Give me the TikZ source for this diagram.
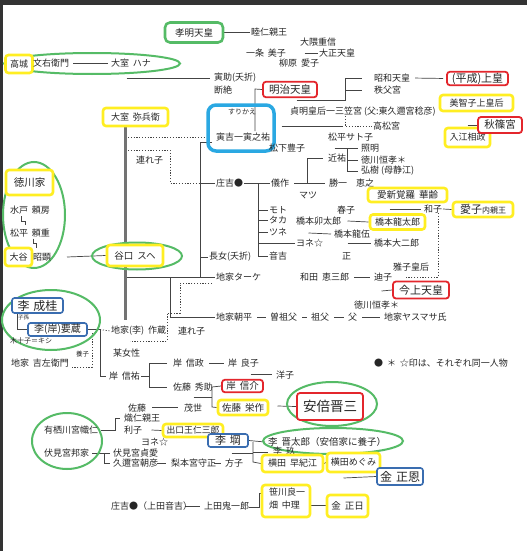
\documentclass[tikz,border=0pt]{standalone}
\usepackage{fontspec}
\setmainfont{Noto Sans CJK JP}
\usetikzlibrary{shapes.geometric}
\definecolor{hlY}{HTML}{FFEE22}
\definecolor{hlG}{HTML}{55BB66}
\definecolor{hlR}{HTML}{E3262C}
\definecolor{hlB}{HTML}{3A6DB0}
\definecolor{hlC}{HTML}{2AA8E2}
\definecolor{ink}{HTML}{444444}
\newcommand\fsz[1]{\fontsize{#1}{#1}\selectfont}
\newcommand\jsp{\hspace{4pt}}
\pgfdeclarelayer{bg}
\pgfsetlayers{bg,main}
\begin{document}
\begin{tikzpicture}[x=1pt,y=-1pt,
  t/.style={inner sep=0.8pt, font=\fsz{9}, text=black!85, anchor=west},
  ln/.style={draw=ink, line width=0.7pt},
  gp/.style={ln, shorten <=4pt, shorten >=3pt},
  dbl/.style={draw=ink, line width=0.55pt, double=white, double distance=1.3pt},
  dot/.style={draw=ink, line width=0.7pt, dash pattern=on 1.2pt off 1.6pt},
  ybox/.style={draw=hlY, line width=2.6pt, rounded corners=3pt, fill=white, inner sep=0pt, text=black!85},
  rbox/.style={draw=hlR, line width=1.8pt, rounded corners=3pt, fill=white, inner sep=0pt, text=black!85},
  bbox/.style={draw=hlB, line width=1.6pt, rounded corners=2.5pt, fill=white, inner sep=0pt, text=black!85},
  gbox/.style={draw=hlG, line width=2.6pt, rounded corners=5pt, fill=white, inner sep=0pt, text=black!85},
  gell/.style={draw=hlG, line width=2pt}]
\useasboundingbox (0,0) rectangle (527,551);

% ---------- green ellipses ----------
\draw[gell] (92,63.5) ellipse [x radius=88, y radius=10.5];
\draw[gell] (34,215) ellipse [x radius=31, y radius=53];
\draw[gell] (137,256) ellipse [x radius=45, y radius=13.5];
\draw[gell] (51,320) ellipse [x radius=49, y radius=30];
\draw[gell] (67,441) ellipse [x radius=35, y radius=28];
\draw[gell] (332,404) ellipse [x radius=45, y radius=22];
\draw[gell] (333,441) ellipse [x radius=70, y radius=13];

% ---------- top ----------
\node[gbox, minimum width=58, minimum height=20, font=\fsz{9.5}] (koumei) at (194,32.5) {孝明天皇};
\node[t] (mutsu) at (250,32.5) {睦仁親王};
\node[t] (ichijo) at (245,53) {一条\jsp 美子};
\node[t] (okuma) at (299,42) {大隈重信};
\node[t] (taisho) at (318,53) {大正天皇};
\node[t] (yanagi) at (278,63) {柳原\jsp 愛子};
\node[rbox, minimum width=54, minimum height=15.5, font=\fsz{10.5}] (meiji) at (290,89.5) {明治天皇};
\node[t] (showa) at (373,78) {昭和天皇};
\node[t] (chichibu) at (373,90) {秩父宮};
\node[t] (teimei) at (289,112) {貞明皇后一三笠宮 (父:東久邇宮稔彦)};
\node[t] (takamatsu) at (372,126) {高松宮};
\node[rbox, minimum width=61, minimum height=13.5, font=\fsz{11}] (heisei) at (477.5,78.5) {(平成)上皇};
\node[ybox, minimum width=73, minimum height=16, font=\fsz{9}] (michiko) at (476.5,103) {美智子上皇后};
\node[ybox, minimum width=45, minimum height=19, font=\fsz{9}] (irie) at (467.5,137.5) {入江相政};
\node[rbox, minimum width=44, minimum height=16, font=\fsz{10.5}] (akishino) at (500,125) {秋篠宮};

% ---------- Omuro ----------
\node[ybox, minimum width=27, minimum height=18, font=\fsz{9}] (takagi) at (19,64) {高城};
\node[t] (bunemon) at (32,63.5) {文右衛門};
\node[t] (hana) at (110,63.5) {大室\jsp ハナ};
\node[t] (torasuke) at (213,78) {寅助(夭折)};
\node[t] (danzetsu) at (213,90) {断絶};
\node[ybox, minimum width=65, minimum height=18, font=\fsz{9}] (yahei) at (135.5,117) {大室\jsp 弥兵衛};
\node[draw=hlC, line width=3.5pt, rounded corners=8pt, minimum width=66, minimum height=46, inner sep=0pt] (surikae) at (241,128) {};
\node[t, font=\fsz{7}] (surikaetxt) at (227,112) {すりかえ};
\node[t] (torakichi) at (215,137) {寅吉一寅之祐};
\node[t] (matsushita) at (268,148) {松下豊子};
\node[t] (tsureko1) at (135,160) {連れ子};
\node[t] (shokichi) at (215,183) {庄吉●};
\node[t] (gisaku) at (270,183) {儀作};
\node[t] (chikasuke) at (327,158) {近祐};
\node[t] (katsu) at (328,183) {勝一};
\node[t] (yoshiyuki) at (355,183) {恵之};
\node[t] (sato) at (327,137) {松平サト子};
\node[t] (teruaki) at (360,148) {照明};
\node[t] (tsunenari) at (360,160) {徳川恒孝＊};
\node[t] (hiroki) at (360,171) {弘樹 (母静江)};
\node[ybox, minimum width=79, minimum height=14, font=\fsz{9.5}] (karei) at (407.5,195) {愛新覚羅\jsp 華齢};
\node[t] (kazuko) at (423,209) {和子};
\node[ybox, minimum width=60, minimum height=15, inner sep=0pt] (aiko) at (483,209.5) {\fsz{11}愛子\fsz{8}内親王};
\node[t] (matsu) at (298,195) {マツ};
\node[t] (haruko) at (336,210) {春子};
\node[t] (utaro) at (295,221) {橋本卯太郎};
\node[ybox, minimum width=55, minimum height=15, font=\fsz{9}] (ryutaro) at (397.5,222) {橋本龍太郎};
\node[t] (ryugo) at (333,234) {橋本龍伍};
\node[t] (yone) at (295,243) {ヨネ☆};
\node[t] (daijiro) at (373,243) {橋本大二郎};
\node[t] (tadashi) at (341,256) {正};
\node[t] (moto) at (268,210) {モト};
\node[t] (taka) at (268,220) {タカ};
\node[t] (tsune) at (268,232) {ツネ};
\node[t] (otokichi) at (268,256) {音吉};
\node[t] (choujo) at (208,257) {長女(夭折)};
\node[t] (chiketake) at (215,277) {地家ターケ};
\node[t] (wada) at (299,277) {和田\jsp 恵三郎};
\node[t] (michiko2) at (373,277) {迪子};
\node[t] (masako) at (392,267) {雅子皇后};
\node[rbox, minimum width=56, minimum height=17, font=\fsz{11}] (kinjo) at (421,290) {今上天皇};
\node[t] (tsunenari2) at (353,305) {徳川恒孝＊};
\node[t] (asahira) at (215,317) {地家朝平};
\node[t] (sosofu) at (269,317) {曽祖父};
\node[t] (sofu) at (310,317) {祖父};
\node[t] (chichi) at (347,317) {父};
\node[t] (yasumasa) at (383,317) {地家ヤスマサ氏};
\node[t] (legend) at (373,363) {●\jsp ＊\jsp ☆印は、それぞれ同一人物};

% ---------- Tokugawa ----------
\node[ybox, minimum width=47, minimum height=25, font=\fsz{10.5}] (tokugawa) at (29.5,182.5) {徳川家};
\node[t] (mito) at (9,210) {水戸\jsp 頼房};
\node[t] (matsudaira) at (9,233) {松平\jsp 頼重};
\node[ybox, minimum width=27, minimum height=18, font=\fsz{9}] (otani) at (18.5,257) {大谷};
\node[t] (akiaki) at (32,257) {昭顕};
\node[ybox, minimum width=56, minimum height=21, font=\fsz{9.5}] (taniguchi) at (135,255.5) {谷口\jsp スヘ};

% ---------- Lee ----------
\node[bbox, minimum width=51, minimum height=15, font=\fsz{12}] (seikei) at (37.5,305.5) {李\jsp 成桂};
\node[t, font=\fsz{5.5}] (shison) at (17,317) {子孫};
\node[bbox, minimum width=59, minimum height=13, font=\fsz{10}] (yozo) at (57.5,329.5) {李(岸)要蔵};
\node[t, font=\fsz{7}] (kishi) at (9,341) {木十子＝キシ};
\node[t] (sakuzo) at (110,331) {地家(李)\jsp 作蔵};
\node[t] (tsureko2) at (177,331) {連れ子};
\node[t] (bojosei) at (112,353) {某女性};
\node[t, font=\fsz{6.5}] (yoshi) at (75,354) {養子};
\node[t] (kichizaemon) at (10,363) {地家\jsp 吉左衛門};
\node[t] (nobusuke0) at (108,376) {岸\jsp 信祐};
\node[t] (nobumasa) at (172,363) {岸\jsp 信政};
\node[t] (ryoko) at (227,363) {岸\jsp 良子};
\node[t] (hidesuke) at (172,387) {佐藤\jsp 秀助};
\node[t] (yoko) at (275,375) {洋子};
\node[rbox, minimum width=41, minimum height=12.5, font=\fsz{9.5}] (nobusuke) at (242.5,386) {岸\jsp 信介};
\node[ybox, minimum width=50, minimum height=15, font=\fsz{9.5}] (eisaku) at (243,407.5) {佐藤\jsp 栄作};
\node[t] (sato2) at (127,408) {佐藤};
\node[t] (shigeyo) at (183,408) {茂世};
\node[rbox, minimum width=66, minimum height=27, font=\fsz{13.5}] (abe) at (330,406.5) {安倍晋三};

% ---------- bottom ----------
\node[t] (arisugawa) at (43,430) {有栖川宮幟仁};
\node[t] (fushimi) at (43,453) {伏見宮邦家};
\node[t] (taruhito) at (123,418) {熾仁親王};
\node[t] (riko) at (123,430) {利子};
\node[ybox, minimum width=60, minimum height=13, font=\fsz{8.8}] (deguchi) at (193,430.5) {出口王仁三郎};
\node[t] (yone2) at (140,442) {ヨネ☆};
\node[t] (sadanaru) at (112,453) {伏見宮貞愛};
\node[t] (asahiko) at (112,463) {久邇宮朝彦};
\node[t] (morimasa) at (170,463) {梨本宮守正};
\node[t] (masako2) at (224,463) {方子};
\node[bbox, minimum width=40, minimum height=13, font=\fsz{11}] (rigin) at (228,440.5) {李\jsp 堈};
\node[t, font=\fsz{9.5}] (shintaro) at (267,442) {李\jsp 晋太郎（安倍家に養子）};
\node[t] (rikyu) at (272,451) {李\jsp 玖};
\node[ybox, minimum width=61, minimum height=17, font=\fsz{9}] (sakie) at (292.5,463.5) {横田\jsp 早紀江};
\node[ybox, minimum width=53, minimum height=19, font=\fsz{9}] (megumi) at (353.5,462.5) {横田めぐみ};
\node[bbox, minimum width=46, minimum height=17, font=\fsz{12}] (jongun) at (400,476.5) {金\jsp 正恩};
\node[ybox, minimum width=41, minimum height=22, font=\fsz{9.5}] (jongil) at (347.5,506) {金\jsp 正日};
\node[ybox, minimum width=48, minimum height=32] (sasabox) at (286,501) {};
\node[t] (sasakawa) at (268,492) {笹川良一};
\node[t] (hata) at (268,505) {畑\jsp 中理};
\node[t] (shokichi2) at (110,506) {庄吉●（上田音吉）};
\node[t] (kiichiro) at (203,506) {上田鬼一郎};

% ---------- background and connectors (under boxes) ----------
\begin{pgfonlayer}{bg}
\fill[white] (0,0) rectangle (527,551);
\fill[black!80] (0,0) rectangle (527,5);
\fill[black!80] (0,0) rectangle (3,551);
\draw[ln] (koumei.east) -- (mutsu.west);
\draw[dbl] (270,38)--(270,47.5);
\draw[dbl] (270,58)--(270,82);
\draw[dbl] (288,68)--(288,82);
\draw[dbl] (303,47)--(303,58.5);
\draw[ln] (304.5,53)--(taisho.west);
\draw[dbl] (321,58)--(321,106);
\draw[dbl] (295,97)--(295,103);
\draw[ln] (296.5,100)--(345,100)--(345,78)--(362,78);
\draw[ln] (345,90)--(362,90);
\draw[gp] (showa.east) -- (heisei.west);
\draw[dbl] (466,85)--(466,95);
\draw[dbl] (466,111)--(466,130);
\draw[ln] (467.5,125)--(akishino.west);
\draw[dbl] (280,97)--(280,143);
\draw[ln] (281.5,126)--(343,126);
\draw[dot] (345,116)--(345,126)--(takamatsu.west);
\draw[ln] (255,131)--(255,89)--(meiji.west);
\draw[ln] ([xshift=3pt]bunemon.east) -- ([xshift=-2pt]hana.west);
\draw[dbl] (125,70)--(125,108);
\draw[ln] (126.5,78)--([xshift=-3pt]torasuke.west);
\draw[draw=black!55, line width=3pt] (125,126)--(125,320);
\draw[dot] (128,137)--(surikae.west |- 0,137);
\draw[dot] (128,150)--(170,150)--(170,183)--(200,183);
\draw[ln] (212,142) -- (200,142)--(200,277);
\draw[ln] (200,183)--(shokichi.west);
\draw[ln] (200,257)--(choujo.west);
\draw[ln] (127,277)--(chiketake.west);
\draw[ln] (170,277)--(170,317)--(asahira.west);
\draw[dot] (212,283)--(180,283)--(180,313)--(167,313)--(167,341)--(130,341);
\draw[ln] (shokichi.east)--(gisaku.west);
\draw[ln] (258,183)--(258,256);
\draw[ln] (258,210)--(moto.west);
\draw[ln] (258,220)--(taka.west);
\draw[ln] (258,232)--(tsune.west);
\draw[ln] (258,243)--(yone.west);
\draw[ln] (258,256)--(otokichi.west);
\draw[gp] (gisaku.east)--(katsu.west);
\draw[ln] (307,183)--(307,158)--([xshift=-4pt]chikasuke.west);
\draw[gp] (katsu.east)--(yoshiyuki.west);
\draw[dbl] (333,142)--(333,153.5);
\draw[ln] (334.5,148)--([xshift=-2pt]teruaki.west);
\draw[ln] (347,148)--(347,171);
\draw[ln] (347,160)--([xshift=-2pt]tsunenari.west);
\draw[ln] (347,171)--([xshift=-2pt]hiroki.west);
\draw[dbl] (307,200)--(307,215.5);
\draw[dbl] (307,226.5)--(307,238.5);
\draw[ln] (308.5,233)--([xshift=-2pt]ryugo.west);
\draw[dbl] (307,248.5)--(307,271.5);
\draw[dbl] (346,214.5)--(346,227);
\draw[ln] (347.5,221)--(ryutaro.west);
\draw[dbl] (346,239)--(346,251);
\draw[ln] (347.5,243)--([xshift=-2pt]daijiro.west);
\draw[dbl] (388,202)--(388,215);
\draw[ln] (389.5,209)--([xshift=-2pt]kazuko.west);
\draw[ln] (kazuko.east)--(aiko.west);
\draw[dot] (438,213)--(438,277)--(405.5,277);
\draw[dbl] (404,272)--(404,282);
\draw[gp] (wada.east)--(michiko2.west);
\draw[dbl] (380,282)--(380,298);
\draw[ln] (381.5,291)--(kinjo.west);
\draw[gp] (asahira.east)--(sosofu.west);
\draw[gp] (sosofu.east)--(sofu.west);
\draw[gp] (sofu.east)--(chichi.west);
\draw[gp] (chichi.east)--(yasumasa.west);
\draw[ln] (21,216)--(21,221)--(25,221)--(25,225);
\draw[ln] (33,238.5)--(33,243)--(36,243)--(36,247.5);
\draw[ln] (67,257)--(taniguchi.west);
\draw[ln] (17,313)--(17,329.5)--(yozo.west);
\draw[ln] (yozo.east)--(100,329.5)--(100,376)--([xshift=-2pt]nobusuke0.west);
\draw[dot] (100,329.5)--(sakuzo.west);
\draw[dot] (92,333)--(92,367)--(71,367);
\draw[dbl] (125,337)--(125,346);
\draw[ln] (nobusuke0.east)--(149,376);
\draw[ln] (167,363)--(149,363)--(149,387)--(167,387);
\draw[gp] (nobumasa.east)--(ryoko.west);
\draw[dbl] (249,368.5)--(249,379.5);
\draw[ln] (250.5,374)--(272,374);
\draw[dbl] (192,392)--(192,401.5);
\draw[ln] (193.5,397)--(212,397);
\draw[ln] (nobusuke.west)--(212,387)--(212,407)--(eisaku.west);
\draw[ln] (152,407.5)--(178,407.5);
\draw[dbl] (276,381)--(276,432);
\draw[ln] (277.5,406)--(abe.west);
\draw[ln] (101,430)--(115,430)--(115,418)--(120,418);
\draw[dbl] (150,425)--(150,435);
\draw[ln] (151.5,430)--(deguchi.west);
\draw[dbl] (133,434)--(133,447);
\draw[ln] (92,453)--(104,453)--(104,463)--(110,463);
\draw[ln] (104,453)--(110,453);
\draw[ln] (157,463)--(166,463);
\draw[ln] (214,463)--(221,463);
\draw[dbl] (230,447)--(230,458);
\draw[ln] (231.5,453)--(253,453);
\draw[ln] (rigin.east)--(265,442);
\draw[ln] (253,442)--(253,462)--(sakie.west);
\draw[ln] (253,452)--(268,452);
\draw[ln] (sakie.east)--(megumi.west);
\draw[dbl] (342,472)--(342,495);
\draw[ln] (343.5,478)--(jongun.west);
\draw[ln] (sasabox.east |- 0,505)--(jongil.west |- 0,505);
\draw[ln] (185,506)--(200,506);
\draw[ln] (249,507)--(259,507)--(259,493)--(263,493);
\end{pgfonlayer}
\end{tikzpicture}
\end{document}
